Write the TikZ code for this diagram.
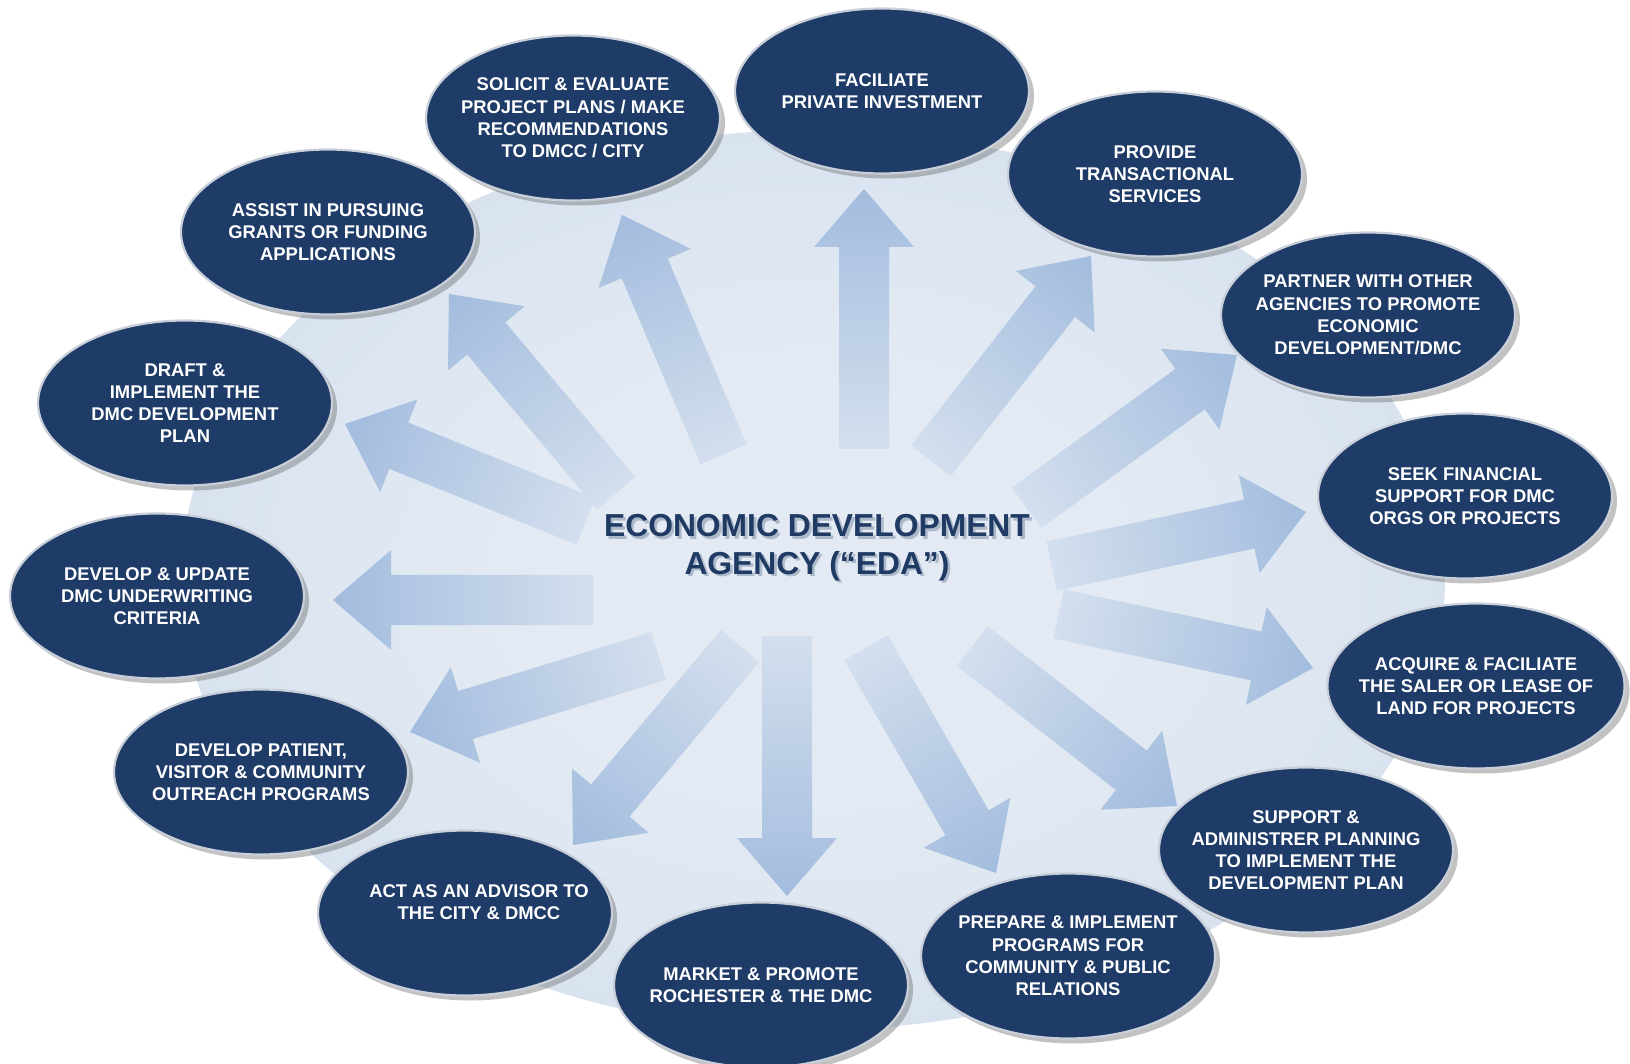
\documentclass[tikz,border=0pt]{standalone}
\usepackage{fontspec}
\setmainfont{Liberation Sans}
\usetikzlibrary{shapes.geometric,shadows}

\definecolor{bubblenavy}{HTML}{1F3C68}
\definecolor{bubblerim}{HTML}{C9CFD8}
\definecolor{glowin}{HTML}{E3EAF3}
\definecolor{glowout}{HTML}{C6D6EA}
\definecolor{spokehead}{HTML}{94B2D9}
\definecolor{spoketail}{HTML}{E0E8F2}
\definecolor{titleblue}{HTML}{1F3A63}

\pgfdeclareradialshading{bgglow}{\pgfpoint{0bp}{0bp}}{color(0bp)=(glowin); color(12bp)=(glowin); color(50bp)=(glowout); color(60bp)=(glowout)}
\pgfdeclarehorizontalshading{spokefade}{100bp}{color(0bp)=(spoketail); color(12bp)=(spoketail); color(78bp)=(spokehead!85!spoketail); color(100bp)=(spokehead)}

% soft offset copy under a line of the title
\newcommand\castshadow[1]{\makebox[0pt][l]{\hspace{1.3pt}\raisebox{-1.3pt}{\textcolor{titleblue!28!glowin}{#1}}}#1}

\begin{document}
\begin{tikzpicture}[x=0.5pt,y=-0.5pt,
  bubble/.style={ellipse, draw=bubblerim, line width=1.1pt, fill=bubblenavy,
    minimum width=147pt, minimum height=82.5pt, inner xsep=-6pt, inner ysep=0pt,
    align=center, text=white, font=\fontsize{9.2}{11.1}\selectfont\bfseries,
    drop shadow={shadow xshift=2.5pt, shadow yshift=-2.5pt, opacity=0.4, fill=black!60}},
  spoke/.style={shading=spokefade},
  title/.style={align=center, text=titleblue, font=\fontsize{15.9}{18.7}\selectfont\bfseries}]
\useasboundingbox (0,0) rectangle (1630,1064);

% light backdrop behind everything
\shade[shading=bgglow] (813,580) ellipse [x radius=632, y radius=450];

% spokes: tip x / tip y / direction
\foreach \tx/\ty/\ang in {622/215/113, 864/189/90, 1091/256/52, 1237/355/36,
    1306/512/12, 1313/668/-12, 1177/806/-38, 996/873/-60, 787/896/-90,
    573/845/230, 410/732/197, 333/600/180, 345/424/158, 449/294/130}{
  \begin{scope}[transform canvas={shift={(\tx,\ty)},rotate=\ang}]
    \shade[spoke] (0,0) -- (-58,50) -- (-58,25) -- (-260,25) -- (-260,-25)
      -- (-58,-25) -- (-58,-50) -- cycle;
  \end{scope}
}

% Text Node
\node[bubble] (assist) at (328,232) {ASSIST IN PURSUING\\GRANTS OR FUNDING\\APPLICATIONS};
% Text Node
\node[bubble] (solicit) at (573,118) {SOLICIT \& EVALUATE\\PROJECT PLANS / MAKE\\RECOMMENDATIONS\\TO DMCC / CITY};
% Text Node
\node[bubble] (invest) at (882,91) {FACILIATE\\PRIVATE INVESTMENT};
% Text Node
\node[bubble] (transact) at (1155,174) {PROVIDE\\TRANSACTIONAL\\SERVICES};
% Text Node
\node[bubble] (partner) at (1368,315) {PARTNER WITH OTHER\\AGENCIES TO PROMOTE\\ECONOMIC\\DEVELOPMENT/DMC};
% Text Node
\node[bubble] (finance) at (1465,496) {SEEK FINANCIAL\\SUPPORT FOR DMC\\ORGS OR PROJECTS};
% Text Node
\node[bubble] (land) at (1476,686) {ACQUIRE \& FACILIATE\\THE SALER OR LEASE OF\\LAND FOR PROJECTS};
% Text Node
\node[bubble] (planning) at (1306,850) {SUPPORT \&\\ADMINISTRER PLANNING\\TO IMPLEMENT THE\\DEVELOPMENT PLAN};
% Text Node
\node[bubble] (relations) at (1068,956) {PREPARE \& IMPLEMENT\\PROGRAMS FOR\\COMMUNITY \& PUBLIC\\RELATIONS};
% Text Node
\node[bubble] (market) at (761,985) {MARKET \& PROMOTE\\ROCHESTER \& THE DMC};
% Text Node
\node[bubble, inner xsep=-14pt] (advisor) at (465,913) {\hspace*{14pt}ACT AS AN ADVISOR TO\\\hspace*{14pt}THE CITY \& DMCC\\~};
% Text Node
\node[bubble] (outreach) at (261,772) {DEVELOP PATIENT,\\VISITOR \& COMMUNITY\\OUTREACH PROGRAMS};
% Text Node
\node[bubble] (criteria) at (157,596) {DEVELOP \& UPDATE\\DMC UNDERWRITING\\CRITERIA};
% Text Node
\node[bubble] (draft) at (185,403) {DRAFT \&\\IMPLEMENT THE\\DMC DEVELOPMENT\\PLAN};

% Text Node
\node[title] (eda) at (817,549) {\castshadow{ECONOMIC DEVELOPMENT}\\\castshadow{AGENCY (“EDA”)}};

\end{tikzpicture}
\end{document}
